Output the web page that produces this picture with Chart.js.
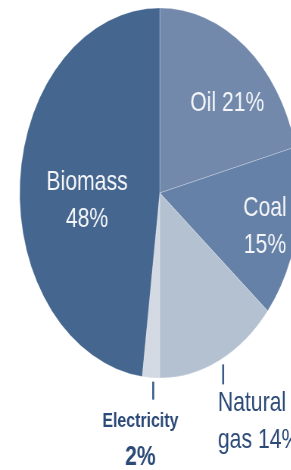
<!DOCTYPE html>
<html>
<head>
<meta charset="utf-8">
<script src="https://cdn.jsdelivr.net/npm/chart.js@4.4.1/dist/chart.umd.min.js"></script>
<style>
  html, body { margin: 0; padding: 0; background: #fff; overflow: hidden; }
  #wrap { width: 384px; height: 470px; transform: scaleX(0.757); transform-origin: 0 0; }
</style>
</head>
<body>
<div id="wrap"><canvas id="mycanvas" width="384" height="470"></canvas></div>
<script>
// shares of final energy use, clockwise from 12 o'clock
var labels = ['Oil', 'Coal', 'Natural gas', 'Electricity', 'Biomass'];
var shares = [21, 15, 14, 2, 48];
var colours = ['#7289ac', '#6681a7', '#b4c1d1', '#d3d9e2', '#45668f'];

// label text lines for each slice
var labelLines = [
	['Oil 21%'],
	['Coal', '15%'],
	['Natural', 'gas 14%'],
	['Electricity', '2%'],
	['Biomass', '48%']
];

// where the inside labels sit: fraction of radius, then a small nudge
var inside = {
	'Oil': { f: 0.69, ox: 11, oy: 11 },
	'Coal': { f: 0.77, ox: 0, oy: 3 },
	'Biomass': { f: 0.52, ox: 0, oy: 14 }
};

// draws the slice labels; inside ones in white, outside ones with a leader line
var sliceLabels = {
	id: 'sliceLabels',
	afterDatasetsDraw: function(chart) {
		var ctx = chart.ctx;
		var arcs = chart.getDatasetMeta(0).data;
		ctx.save();
		ctx.textAlign = 'center';
		ctx.textBaseline = 'middle';
		for (var i = 0; i < arcs.length; i++) {
			var a = arcs[i];
			var mid = (a.startAngle + a.endAngle) / 2;
			var lines = labelLines[i];
			var p = inside[labels[i]];
			if (p) {
				var x = a.x + Math.cos(mid) * a.outerRadius * p.f + p.ox;
				var y = a.y + Math.sin(mid) * a.outerRadius * p.f + p.oy;
				ctx.fillStyle = '#f4f6f9';
				ctx.font = '28px "Liberation Sans", Arial, sans-serif';
				var top = y - (lines.length - 1) * 18.5;
				for (var j = 0; j < lines.length; j++) {
					ctx.fillText(lines[j], x, top + j * 37);
				}
			} else {
				// leader line straight down from the rim
				var ex = a.x + Math.cos(mid) * a.outerRadius;
				var ey = a.y + Math.sin(mid) * a.outerRadius;
				var len = labels[i] == 'Electricity' ? 18 : 20;
				ex += labels[i] == 'Electricity' ? 3 : 5;
				ctx.strokeStyle = '#3a5a88';
				ctx.lineWidth = 2.6;
				ctx.beginPath();
				ctx.moveTo(ex, ey + 4);
				ctx.lineTo(ex, ey + 4 + len);
				ctx.stroke();
				ctx.fillStyle = '#2c4a78';
				if (labels[i] == 'Electricity') {
					ctx.font = 'bold 21px "Liberation Sans", Arial, sans-serif';
					ctx.fillText(lines[0], ex - 17, 421);
					ctx.font = 'bold 28px "Liberation Sans", Arial, sans-serif';
					ctx.fillText(lines[1], ex - 17, 457);
				} else {
					ctx.textAlign = 'left';
					ctx.font = '28px "Liberation Sans", Arial, sans-serif';
					ctx.fillText(lines[0], ex - 7, 403);
					ctx.fillText(lines[1], ex - 7, 440);
					ctx.textAlign = 'center';
				}
			}
		}
		ctx.restore();
	}
};

var ctx = document.getElementById('mycanvas');

var pieChart = new Chart(ctx, {
	type: 'pie',
	data: {
		labels: labels,
		datasets: [
			{
				data: shares,
				backgroundColor: colours,
				borderColor: 'rgba(255, 255, 255, 0.25)',
				borderWidth: 1
			}
		]
	},
	options: {
		responsive: false,
		animation: false,
		devicePixelRatio: 1,
		radius: 185,
		layout: { padding: { left: 38, right: 0, top: 0, bottom: 84 } },
		plugins: {
			legend: { display: false },
			tooltip: { enabled: false }
		}
	},
	plugins: [sliceLabels]
});
</script>
</body>
</html>
